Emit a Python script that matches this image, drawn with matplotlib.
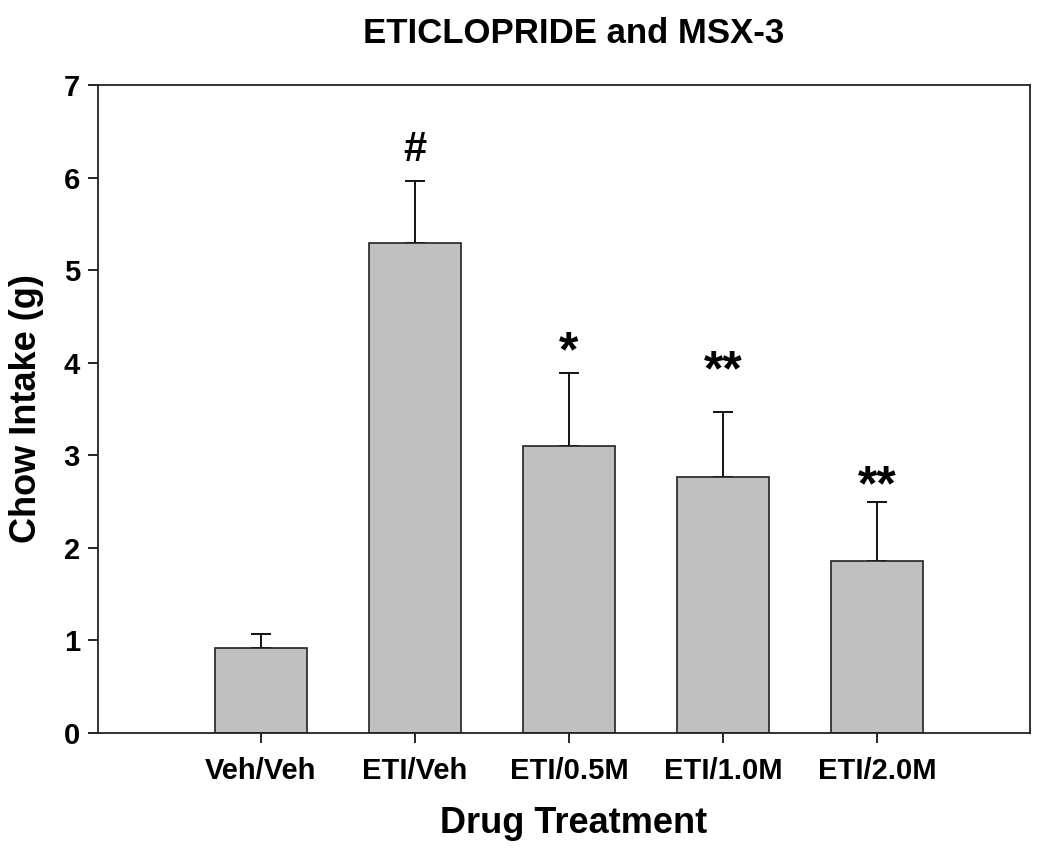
import matplotlib
matplotlib.use("Agg")
import matplotlib.pyplot as plt
import numpy as np

plt.rcParams['font.family'] = ['Liberation Sans', 'DejaVu Sans']
plt.rcParams['font.weight'] = 'bold'

# data
groups = ['Veh/Veh', 'ETI/Veh', 'ETI/0.5M', 'ETI/1.0M', 'ETI/2.0M']
intake = [0.92, 5.29, 3.10, 2.77, 1.86]
sem = [0.15, 0.67, 0.79, 0.70, 0.63]
marks = ['', '#', '*', '**', '**']
mark_y = [0, 6.30, 4.10, 3.90, 2.65]

fig = plt.figure(figsize=(10.5, 8.51), dpi=100)
ax = fig.add_axes([0.0933, 0.1387, 0.8876, 0.7614])

x = np.arange(len(groups))
ax.bar(x, intake, width=0.6, color='#c0c0c0', edgecolor='#222222', linewidth=1.2, zorder=2)
ax.errorbar(x, intake, yerr=[np.zeros(len(sem)), sem], fmt='none', ecolor='black',
            elinewidth=1.3, capsize=7.5, capthick=1.3, zorder=1)

for xi, m, my in zip(x, marks, mark_y):
    if m:
        fs = 30 if m == '#' else 36
        ax.text(xi, my, m, ha='center', va='center', fontsize=fs, fontweight='bold')

ax.set_xlim(-1.058, 4.994)
ax.set_ylim(0, 7)
ax.set_yticks(range(0, 8))
ax.set_xticks(x)
ax.set_xticklabels(groups)
ax.tick_params(axis='both', direction='out', length=7, width=1.2, labelsize=21, colors='black')
ax.tick_params(axis='x', pad=10)
ax.tick_params(axis='y', pad=6)
for s in ax.spines.values():
    s.set_linewidth(1.3)
    s.set_color('#222222')

ax.set_xlabel('Drug Treatment', fontsize=26, fontweight='bold')
ax.xaxis.set_label_coords(0.51, -0.113)
ax.set_ylabel('Chow Intake (g)', fontsize=26, fontweight='bold', labelpad=14)
ax.set_title('ETICLOPRIDE and MSX-3', fontsize=25, fontweight='bold', pad=30, x=0.51)

fig.savefig('out.png', dpi=100)
